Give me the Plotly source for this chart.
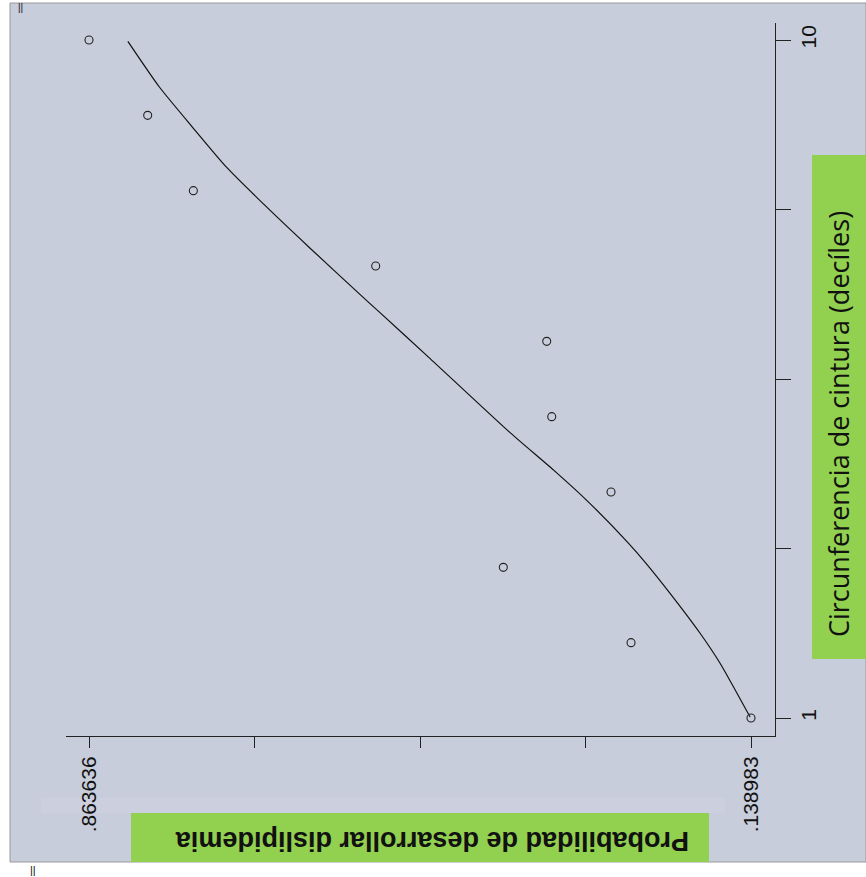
import plotly.graph_objects as go

# Observed probability of dyslipidemia by waist-circumference decile
deciles = [1, 2, 3, 4, 5, 6, 7, 8, 9, 10]
prob_observed = [0.138983, 0.2703, 0.4101, 0.2922, 0.3571, 0.3626, 0.5498, 0.7494, 0.7994, 0.863636]

# Fitted curve (decile position, predicted probability)
fit_decile = [1.013, 1.730, 2.128, 2.658, 3.057, 3.322, 3.853, 4.290, 4.781, 5.794,
              6.391, 6.590, 7.253, 7.784, 8.315, 8.845, 9.376, 9.982]
fit_prob = [0.1400, 0.1730, 0.1949, 0.2278, 0.2541, 0.2732, 0.3157, 0.3550, 0.4021, 0.4923,
            0.5460, 0.5641, 0.6231, 0.6693, 0.7134, 0.7505, 0.7866, 0.8211]

# Lone marker drawn just outside the frame
extra_decile = [1.27]
extra_prob = [0.925]

# Axis ticks: five evenly spaced ticks, only the extremes labelled
prob_ticks = [0.138983, 0.320146, 0.501310, 0.682473, 0.863636]
prob_ticktext = [".138983", "", "", "", ".863636"]
decile_ticks = [1, 3.25, 5.5, 7.75, 10]
decile_ticktext = ["1", "", "", "", "10"]

W, H = 866, 877
L, R, T, B = 66, 775, 23, 736  # plot-area edges in pixels


def xp(px):
    return (px - L) / (R - L)


def yp(py):
    return (B - py) / (B - T)


panel = "rgb(199,205,218)"
green = "#92D050"

fig = go.Figure()

fig.add_trace(go.Scatter(
    x=fit_prob, y=fit_decile, mode="lines",
    line=dict(color="#111111", width=1.2, shape="spline", smoothing=0.6),
    hoverinfo="skip", showlegend=False,
))
fig.add_trace(go.Scatter(
    x=prob_observed, y=deciles, mode="markers",
    marker=dict(symbol="circle-open", size=8, color="#222222", line=dict(width=1.1)),
    showlegend=False,
))
fig.add_trace(go.Scatter(
    x=extra_prob, y=extra_decile, mode="markers", cliponaxis=False,
    marker=dict(symbol="circle-open", size=6, color="#333333", line=dict(width=1)),
    showlegend=False,
))

shapes = [
    # outer panel with thin grey frame
    dict(type="rect", xref="paper", yref="paper", layer="below",
         x0=xp(10), x1=xp(866), y0=yp(862), y1=yp(3),
         fillcolor=panel, line=dict(color="#9a9a9a", width=1)),
    # faint lighter band above the bottom title
    dict(type="rect", xref="paper", yref="paper", layer="below",
         x0=xp(41), x1=xp(725), y0=yp(813), y1=yp(798),
         fillcolor="rgb(203,207,222)", line=dict(width=0)),
    # green label boxes
    dict(type="rect", xref="paper", yref="paper", layer="below",
         x0=xp(812), x1=xp(866), y0=yp(659), y1=yp(155),
         fillcolor=green, line=dict(width=0)),
    dict(type="rect", xref="paper", yref="paper", layer="below",
         x0=xp(131), x1=xp(709), y0=yp(862), y1=yp(813),
         fillcolor=green, line=dict(width=0)),
]

annotations = [
    dict(text="Circunferencia de cintura (decíles)", textangle=-90,
         xref="paper", yref="paper", x=xp(838), y=yp(424),
         xanchor="center", yanchor="middle", showarrow=False,
         font=dict(family="Open Sans, Noto Sans, sans-serif", size=27, color="#111111")),
    dict(text="<b>Probabilidad de desarrollar dislipidemia</b>", textangle=180,
         xref="paper", yref="paper", x=xp(432), y=yp(841),
         xanchor="center", yanchor="middle", showarrow=False,
         font=dict(family="Liberation Sans, Arial, sans-serif", size=27, color="#111111")),
    dict(text="||", xref="paper", yref="paper", x=xp(20), y=yp(7),
         xanchor="center", yanchor="middle", showarrow=False,
         font=dict(family="Liberation Sans, Arial", size=10, color="#111111")),
    dict(text="||", xref="paper", yref="paper", x=xp(33), y=yp(870),
         xanchor="center", yanchor="middle", showarrow=False,
         font=dict(family="Liberation Sans, Arial", size=11, color="#111111")),
]

tick_font = dict(family="Liberation Sans Narrow, Arial Narrow, Liberation Sans, Arial", size=21, color="#111111")

fig.update_layout(
    width=W, height=H,
    margin=dict(l=L, r=W - R, t=T, b=H - B, pad=0, autoexpand=False),
    paper_bgcolor="white",
    plot_bgcolor=panel,
    shapes=shapes,
    annotations=annotations,
    xaxis=dict(
        range=[0.888813, 0.112712],
        tickvals=prob_ticks, ticktext=prob_ticktext, tickangle=-90,
        ticks="outside", ticklen=11, tickwidth=1, tickcolor="#222222",
        showline=True, linecolor="#222222", linewidth=1,
        showgrid=False, zeroline=False, tickfont=tick_font,
    ),
    yaxis=dict(
        range=[0.76106, 10.2257], side="right",
        tickvals=decile_ticks, ticktext=decile_ticktext, tickangle=-90,
        ticks="outside", ticklen=15, tickwidth=1, tickcolor="#222222",
        showline=True, linecolor="#222222", linewidth=1,
        showgrid=False, zeroline=False, tickfont=tick_font,
    ),
)

fig.write_html("out.html")
